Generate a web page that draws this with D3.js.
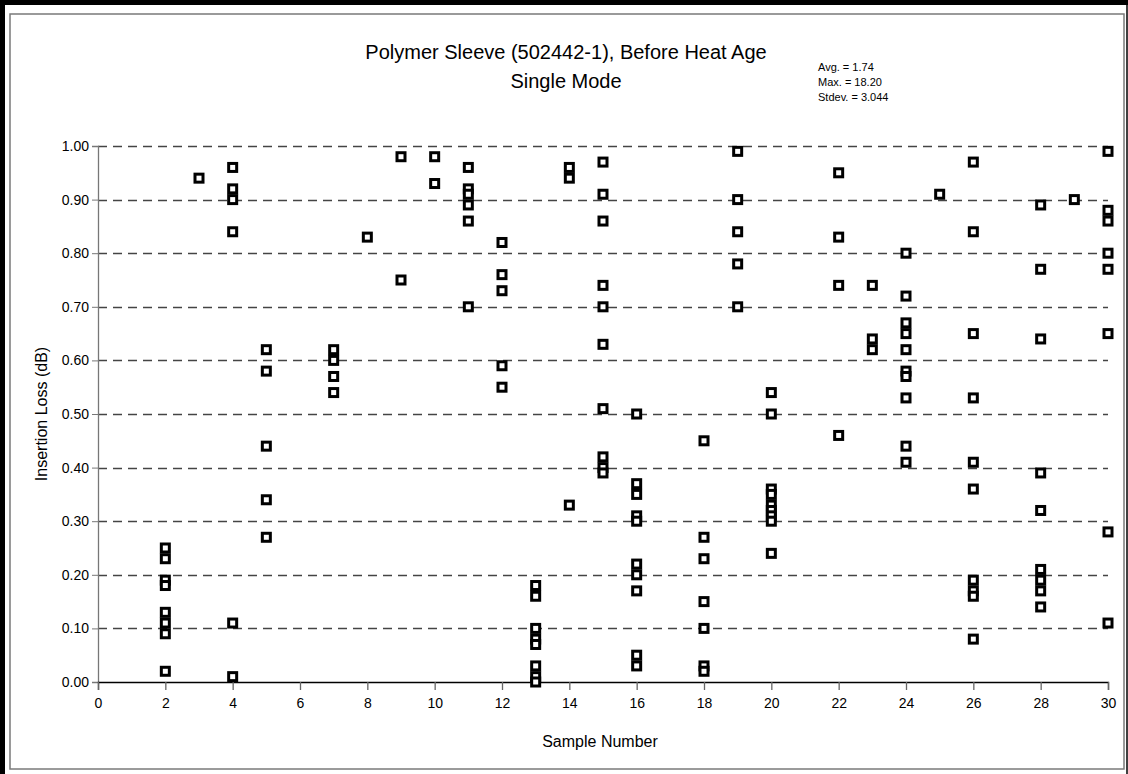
<!DOCTYPE html>
<html>
<head>
<meta charset="utf-8">
<script src="https://cdn.jsdelivr.net/npm/d3@7"></script>
<style>
  body { margin: 0; background: #fff; }
  svg { display: block; font-family: "Liberation Sans Narrow", "Liberation Sans", Arial, sans-serif; }
</style>
</head>
<body>
<div id="chart"></div>
<script>
const samples = [2, 3, 4, 5, 7, 8, 9, 10, 11, 12, 13, 14, 15, 16, 18, 19, 20, 22, 23, 24, 25, 26, 28, 29, 30];
const losses = [
    [0.25, 0.23, 0.19, 0.18, 0.13, 0.11, 0.09, 0.02],
    [0.94],
    [0.96, 0.92, 0.90, 0.84, 0.11, 0.01],
    [0.62, 0.58, 0.44, 0.34, 0.27],
    [0.62, 0.60, 0.57, 0.54],
    [0.83],
    [0.98, 0.75],
    [0.98, 0.93],
    [0.96, 0.92, 0.91, 0.89, 0.86, 0.70],
    [0.82, 0.76, 0.73, 0.59, 0.55],
    [0.18, 0.16, 0.10, 0.08, 0.07, 0.03, 0.01, 0.00],
    [0.96, 0.94, 0.33],
    [0.97, 0.91, 0.86, 0.74, 0.70, 0.63, 0.51, 0.42, 0.40, 0.39],
    [0.50, 0.37, 0.35, 0.31, 0.30, 0.22, 0.20, 0.17, 0.05, 0.03],
    [0.45, 0.27, 0.23, 0.15, 0.10, 0.03, 0.02],
    [0.99, 0.90, 0.84, 0.78, 0.70],
    [0.54, 0.50, 0.36, 0.35, 0.33, 0.32, 0.31, 0.30, 0.24],
    [0.95, 0.83, 0.74, 0.46],
    [0.74, 0.64, 0.62],
    [0.80, 0.72, 0.67, 0.65, 0.62, 0.58, 0.57, 0.53, 0.44, 0.41],
    [0.91],
    [0.97, 0.84, 0.65, 0.53, 0.41, 0.36, 0.19, 0.17, 0.16, 0.08],
    [0.89, 0.77, 0.64, 0.39, 0.32, 0.21, 0.19, 0.17, 0.14],
    [0.90],
    [0.99, 0.88, 0.86, 0.80, 0.77, 0.65, 0.28, 0.11]
];
const xTicks = d3.range(0, 31, 2);
const yTicks = d3.range(0, 1.01, 0.1);
const statLines = ['Avg. = 1.74', 'Max. = 18.20', 'Stdev. = 3.044'];

const points = [];
samples.forEach((s, i) => losses[i].forEach(v => points.push([s, v])));

const width = 1128;
const height = 774;

const scaleX = d3.scaleLinear()
.domain([0, 30])
.range([98, 1108]);

const scaleY = d3.scaleLinear()
.domain([0, 1])
.range([682, 146]);

const svg = d3.select('#chart')
.append('svg')
.attr('width', width)
.attr('height', height);

// frame
svg.append('rect')
.attr('x', 10).attr('y', 14)
.attr('width', 1114).attr('height', 755)
.attr('fill', 'none')
.attr('stroke', '#7a7a7a')
.attr('stroke-width', 1.5);

svg.append('path')
.attr('d', 'M2.5,774 V2.5 H1128')
.attr('fill', 'none')
.attr('stroke', '#000')
.attr('stroke-width', 5);

svg.append('line')
.attr('x1', 1127).attr('x2', 1127)
.attr('y1', 0).attr('y2', 774)
.attr('stroke', '#000')
.attr('stroke-width', 1.5);

// grid lines
svg.append('g')
.selectAll('line')
.data(yTicks.slice(1))
.enter()
.append('line')
.attr('x1', scaleX(0))
.attr('x2', scaleX(30))
.attr('y1', d => Math.round(scaleY(d)) + 0.5)
.attr('y2', d => Math.round(scaleY(d)) + 0.5)
.attr('stroke', '#444')
.attr('stroke-width', 1.3)
.attr('stroke-dasharray', '9,6');

// y axis
const yAxis = d3.axisLeft(scaleY)
.tickValues(yTicks)
.tickFormat(d3.format('.2f'))
.tickSize(6)
.tickPadding(3);

const groupAxisY = svg.append('g')
.attr('transform', `translate(${scaleX(0)}, 0)`)
.call(yAxis);

groupAxisY.select('.domain').attr('stroke', '#777').attr('stroke-width', 1.3);
groupAxisY.selectAll('.tick line').attr('stroke', '#777');
groupAxisY.selectAll('text')
.attr('font-size', 14)
.attr('fill', '#000')
.style('font-family', '"Liberation Sans Narrow", "Liberation Sans", Arial, sans-serif');

// x axis
const xAxis = d3.axisBottom(scaleX)
.tickValues(xTicks)
.tickFormat(d3.format('d'))
.tickSizeOuter(0)
.tickSize(8)
.tickPadding(8);

const groupAxisX = svg.append('g')
.attr('transform', `translate(0, ${scaleY(0)})`)
.call(xAxis);

groupAxisX.select('.domain').attr('stroke', '#000').attr('stroke-width', 1.3);
groupAxisX.selectAll('.tick line').attr('stroke', '#666').attr('stroke-width', 1.3);
groupAxisX.selectAll('text')
.attr('font-size', 14)
.attr('fill', '#000')
.style('font-family', '"Liberation Sans Narrow", "Liberation Sans", Arial, sans-serif');

// markers
svg.append('g')
.selectAll('rect')
.data(points)
.enter()
.append('rect')
.attr('x', d => scaleX(d[0]) - 4)
.attr('y', d => scaleY(d[1]) - 4)
.attr('width', 8)
.attr('height', 8)
.attr('fill', '#fff')
.attr('stroke', '#000')
.attr('stroke-width', 3);

// titles
svg.append('text')
.attr('x', 566).attr('y', 59)
.attr('text-anchor', 'middle')
.attr('font-size', 20)
.text('Polymer Sleeve (502442-1), Before Heat Age');

svg.append('text')
.attr('x', 566).attr('y', 88)
.attr('text-anchor', 'middle')
.attr('font-size', 20)
.text('Single Mode');

svg.append('g')
.selectAll('text')
.data(statLines)
.enter()
.append('text')
.attr('x', 818)
.attr('y', (d, i) => 71 + i * 15)
.attr('font-size', 11)
.text(d => d);

svg.append('text')
.attr('transform', `translate(47, ${scaleY(0.5)}) rotate(-90)`)
.attr('text-anchor', 'middle')
.attr('font-size', 16)
.text('Insertion Loss (dB)');

svg.append('text')
.attr('x', 600).attr('y', 747)
.attr('text-anchor', 'middle')
.attr('font-size', 16)
.text('Sample Number');
</script>
</body>
</html>
